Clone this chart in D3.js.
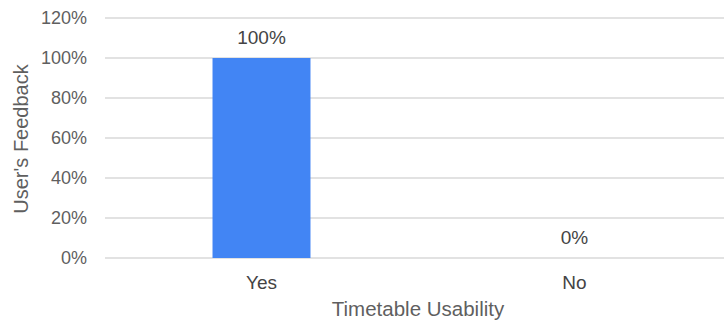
<!DOCTYPE html>
<html>
<head>
<meta charset="utf-8">
<script src="https://cdn.jsdelivr.net/npm/d3@7"></script>
<style>
  html, body { margin: 0; padding: 0; background: #fff; }
  svg { display: block; }
  text { font-family: "Liberation Sans", Arial, sans-serif; }
</style>
</head>
<body>
<svg id="chart" width="724" height="325"></svg>
<script>
// Timetable usability feedback
const categories = ["Yes", "No"];
const values = [1.0, 0.0];
const valueLabels = ["100%", "0%"];
const yTicks = [0, 0.2, 0.4, 0.6, 0.8, 1.0, 1.2];
const yTickLabels = ["0%", "20%", "40%", "60%", "80%", "100%", "120%"];

const svg = d3.select("#chart");
const plot = { left: 105, right: 731, top: 18, bottom: 258 };

const x = d3.scaleBand()
  .domain(categories)
  .range([plot.left, plot.right])
  .paddingInner(0.687)
  .paddingOuter(0.3435);

const y = d3.scaleLinear().domain([0, 1.2]).range([plot.bottom, plot.top]);

// Horizontal gridlines
svg.append("g")
  .selectAll("line")
  .data(yTicks)
  .join("line")
  .attr("x1", plot.left)
  .attr("x2", 724)
  .attr("y1", d => y(d))
  .attr("y2", d => y(d))
  .attr("stroke", "#d9d9d9")
  .attr("stroke-width", 1.5);

// Y tick labels
svg.append("g")
  .selectAll("text")
  .data(yTicks)
  .join("text")
  .attr("x", 87)
  .attr("y", d => y(d))
  .attr("dy", "0.36em")
  .attr("text-anchor", "end")
  .attr("font-size", 18)
  .attr("fill", "#5f5f5f")
  .text((d, i) => yTickLabels[i]);

// Bars
svg.append("g")
  .selectAll("rect")
  .data(values)
  .join("rect")
  .attr("x", (d, i) => x(categories[i]))
  .attr("width", x.bandwidth())
  .attr("y", d => y(d))
  .attr("height", d => y(0) - y(d))
  .attr("fill", "#4285f4");

// Value labels
svg.append("g")
  .selectAll("text")
  .data(values)
  .join("text")
  .attr("x", (d, i) => x(categories[i]) + x.bandwidth() / 2)
  .attr("y", d => y(d) - 21)
  .attr("dy", "0.36em")
  .attr("text-anchor", "middle")
  .attr("font-size", 19)
  .attr("fill", "#444444")
  .text((d, i) => valueLabels[i]);

// Category labels
svg.append("g")
  .selectAll("text")
  .data(categories)
  .join("text")
  .attr("x", d => x(d) + x.bandwidth() / 2)
  .attr("y", 282)
  .attr("dy", "0.36em")
  .attr("text-anchor", "middle")
  .attr("font-size", 19)
  .attr("fill", "#444444")
  .text(d => d);

// Axis titles
svg.append("text")
  .attr("x", 418)
  .attr("y", 309)
  .attr("dy", "0.36em")
  .attr("text-anchor", "middle")
  .attr("font-size", 20.5)
  .attr("fill", "#5f5f5f")
  .text("Timetable Usability");

svg.append("text")
  .attr("transform", "translate(21,139) rotate(-90)")
  .attr("dy", "0.36em")
  .attr("text-anchor", "middle")
  .attr("font-size", 20)
  .attr("fill", "#5f5f5f")
  .text("User's Feedback");
</script>
</body>
</html>
